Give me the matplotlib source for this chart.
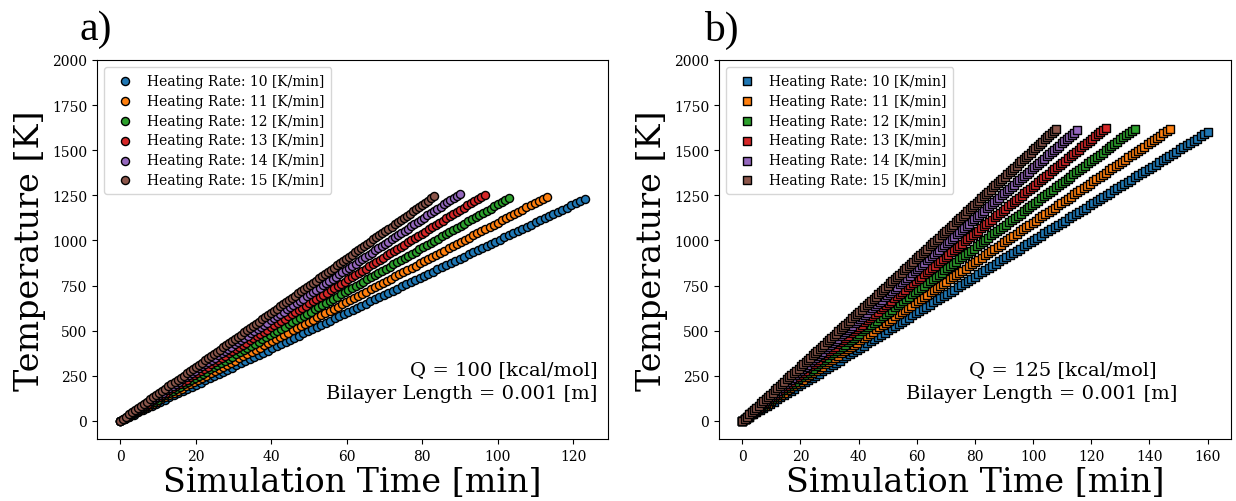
import matplotlib
matplotlib.use("Agg")
import matplotlib.pyplot as plt
import numpy as np

# heating rates [K/min] and end of each run [min]
rates = [10, 11, 12, 13, 14, 15]
labels = [f"Heating Rate: {r} [K/min]" for r in rates]
end_time_a = [123.0, 113.0, 103.0, 96.5, 90.0, 83.0]
end_time_b = [160.0, 147.0, 135.0, 125.0, 115.0, 108.0]
n_points_a = 105
n_points_b = 135
colors = ["#1f77b4", "#ff7f0e", "#2ca02c", "#d62728", "#9467bd", "#8c564b"]

plt.rcParams["font.family"] = "DejaVu Serif"

fig = plt.figure(figsize=(12.36, 5.02), dpi=100)
ax_a = fig.add_axes([0.0785, 0.1235, 0.4134, 0.755])
ax_b = fig.add_axes([0.5817, 0.1235, 0.4142, 0.755])


def panel(ax, end_times, n, marker, q_text, q_x, len_x):
    for rate, t_end, c, lab in zip(rates, end_times, colors, labels):
        t = np.linspace(0, t_end, n)
        ax.scatter(t, rate * t, s=34, marker=marker, color=c,
                   edgecolors="black", linewidths=1.0, label=lab, zorder=3)
    ax.set_ylim(-100, 2000)
    ax.set_yticks(np.arange(0, 2001, 250))
    ax.set_xlabel("Simulation Time [min]", fontsize=24, labelpad=2)
    ax.set_ylabel("Temperature [K]", fontsize=24, labelpad=4)
    ax.tick_params(labelsize=10)
    ax.legend(loc="upper left", fontsize=10, handletextpad=0.6,
              labelspacing=0.42, borderpad=0.5)
    ax.text(q_x, 0.16, q_text, transform=ax.transAxes,
            ha="right", va="bottom", fontsize=14)
    ax.text(len_x, 0.097, "Bilayer Length = 0.001 [m]", transform=ax.transAxes,
            ha="right", va="bottom", fontsize=14)


panel(ax_a, end_time_a, n_points_a, "o", "Q = 100 [kcal/mol]", 0.98, 0.98)
panel(ax_b, end_time_b, n_points_b, "s", "Q = 125 [kcal/mol]", 0.855, 0.896)

fig.text(0.064, 0.94, "a)", fontsize=30, family="Liberation Serif", ha="left", va="center")
fig.text(0.570, 0.94, "b)", fontsize=30, family="Liberation Serif", ha="left", va="center")

fig.savefig("out.png", dpi=100)
